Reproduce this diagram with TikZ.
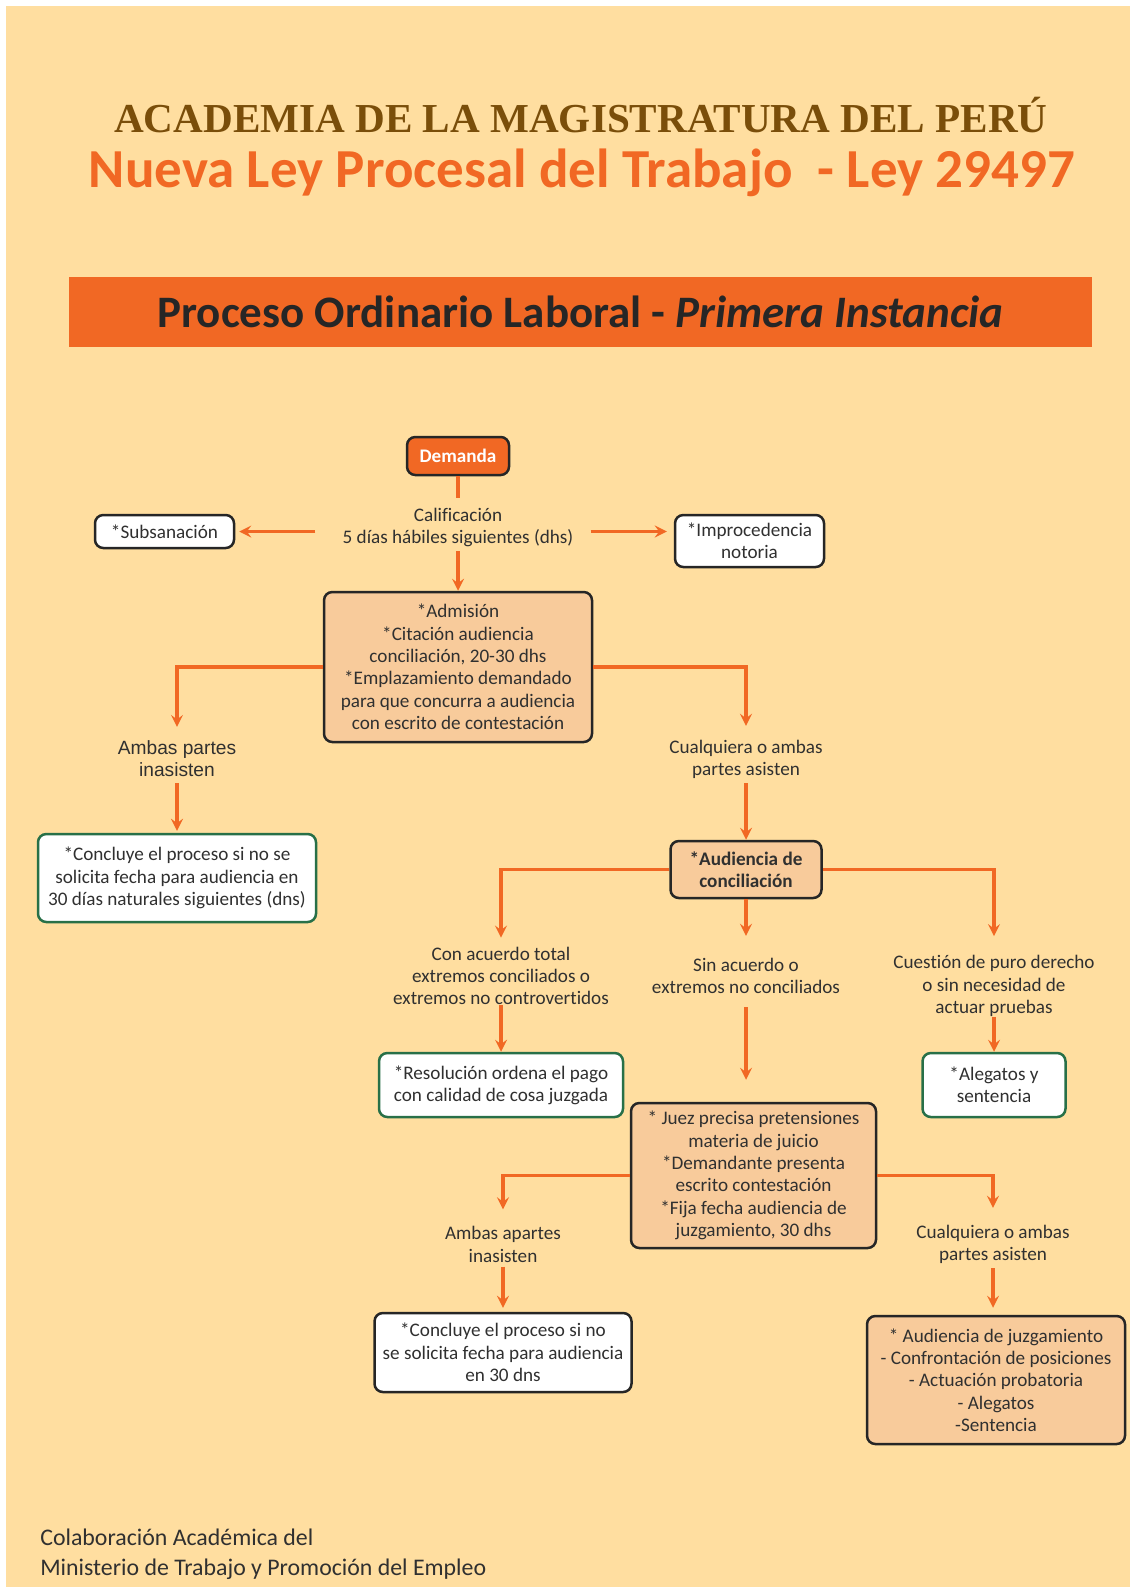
\documentclass[tikz,border=0pt]{standalone}
\usepackage{fontspec}
\setmainfont{Carlito}[Ligatures=NoCommon]
\newfontfamily\serifhead{Liberation Serif}
\newfontfamily\arialtext{Liberation Sans}
\usepackage{tikz}
\usetikzlibrary{arrows}
\definecolor{paper}{RGB}{255,222,160}
\definecolor{flow}{RGB}{241,104,36}
\definecolor{peachfill}{RGB}{248,203,155}
\definecolor{boxline}{RGB}{38,38,38}
\definecolor{greenline}{RGB}{40,112,72}
\definecolor{ink}{RGB}{48,48,48}
\definecolor{brownhead}{RGB}{122,78,10}
\newdimen\px \px=0.6pt
\tikzstyle{box} = [rectangle, rounded corners=5pt, draw=boxline, line width=1.5pt, fill=white, align=center, text=ink, inner sep=0pt]
\tikzstyle{greenbox} = [box, draw=greenline]
\tikzstyle{peach} = [box, fill=peachfill]
\tikzstyle{branch} = [align=center, text=ink, inner sep=0pt]
\tikzstyle{arrow} = [line width=2.1pt, draw=flow, ->, >=stealth]
\tikzstyle{plainline} = [line width=2.1pt, draw=flow]

\begin{document}
\fontsize{11.5}{13.4}\selectfont
\begin{tikzpicture}[x=0.6pt, y=-0.6pt]
    \useasboundingbox (0,0) rectangle (1130,1587);
    \fill[white] (0,0) rectangle (1130,1587);
    \fill[paper] (6,6) rectangle (1130,1587);

    \node (academia) [text=brownhead, font=\serifhead\bfseries\fontsize{24.7}{30}\selectfont] at (581,115) {ACADEMIA DE LA MAGISTRATURA DEL PERÚ};
    \node (ley) [text=flow, font=\bfseries\fontsize{33}{38}\selectfont] at (582,173) {Nueva Ley Procesal del Trabajo~ - Ley 29497};
    \node (bar) [fill=flow, minimum width=1023\px, minimum height=70\px, inner sep=0pt, text=black!85, font=\bfseries\fontsize{27}{30}\selectfont] at (580.5,312) {Proceso Ordinario Laboral - \textit{Primera Instancia}};

    \node (demanda) [box, fill=flow, text=white, font=\bfseries, minimum width=102\px, minimum height=38\px] at (458,456) {Demanda};
    \node (calif) [branch] at (458,527.5) {Calificación\\5 días hábiles siguientes (dhs)};
    \node (subsanacion) [box, minimum width=139\px, minimum height=33\px] at (164.5,531.5) {*Subsanación};
    \node (improcedencia) [box, minimum width=149\px, minimum height=52\px] at (749.5,541) {*Improcedencia\\notoria};
    \node (admision) [peach, minimum width=268\px, minimum height=150\px] at (458,667) {*Admisión\\*Citación audiencia\\conciliación, 20-30 dhs\\*Emplazamiento demandado\\para que concurra a audiencia\\con escrito de contestación};

    \node (ambas1) [branch, font=\arialtext] at (177,758.5) {Ambas partes\\inasisten};
    \node (cualquiera1) [branch] at (746,759.5) {Cualquiera o ambas\\partes asisten};
    \node (concluye1) [greenbox, minimum width=278\px, minimum height=88\px] at (177,878) {*Concluye el proceso si no se\\solicita fecha para audiencia en\\30 días naturales siguientes (dns)};
    \node (conciliacion) [peach, font=\bfseries, minimum width=151\px, minimum height=57\px] at (746,869.5) {*Audiencia de\\conciliación};

    \node (acuerdo) [branch] at (501,976) {Con acuerdo total\\extremos conciliados o\\extremos no controvertidos};
    \node (sinacuerdo) [branch] at (746,976) {Sin acuerdo o\\extremos no conciliados};
    \node (cuestion) [branch] at (994,986) {Cuestión de puro derecho\\o sin necesidad de\\actuar pruebas};
    \node (resolucion) [greenbox, minimum width=244\px, minimum height=64\px] at (501,1085) {*Resolución ordena el pago\\con calidad de cosa juzgada};
    \node (alegatos) [greenbox, minimum width=143\px, minimum height=64\px] at (994,1085) {*Alegatos y\\sentencia};

    \node (juez) [peach, minimum width=245\px, minimum height=145\px] at (753.5,1175.5) {* Juez precisa pretensiones\\materia de juicio\\*Demandante presenta\\escrito contestación\\*Fija fecha audiencia de\\juzgamiento, 30 dhs};
    \node (ambas2) [branch] at (503,1244.5) {Ambas apartes\\inasisten};
    \node (cualquiera2) [branch] at (993,1244.5) {Cualquiera o ambas\\partes asisten};
    \node (concluye2) [box, minimum width=257\px, minimum height=79\px] at (503,1352.5) {*Concluye el proceso si no\\se solicita fecha para audiencia\\en 30 dns};
    \node (juzgamiento) [peach, minimum width=258\px, minimum height=128\px] at (996,1380) {* Audiencia de juzgamiento\\- Confrontación de posiciones\\- Actuación probatoria\\- Alegatos\\-Sentencia};

    \node (colaboracion) [anchor=west, align=left, text=ink, inner sep=0pt, font=\fontsize{14.3}{18}\selectfont] at (40,1554) {Colaboración Académica del\\Ministerio de Trabajo y Promoción del Empleo};

    \draw [plainline, shorten >=10\px] (demanda) -- (calif);
    \draw [arrow, shorten <=4\px] (calif) -- (admision);
    \draw [arrow, shorten <=27\px, shorten >=4\px] (calif.west |- subsanacion) -- (subsanacion);
    \draw [arrow, shorten <=17\px, shorten >=7\px] (calif.east |- subsanacion) -- (improcedencia.west |- subsanacion);
    \draw [arrow, shorten >=13\px] (admision) -| (ambas1);
    \draw [arrow, shorten >=14\px] (admision) -| (cualquiera1);
    \draw [arrow, shorten <=6\px, shorten >=2\px] (ambas1) -- (concluye1);
    \draw [arrow, shorten <=4\px] (cualquiera1) -- (conciliacion);
    \draw [arrow, shorten >=9\px] (conciliacion) -| (acuerdo);
    \draw [arrow, shorten >=22\px] (conciliacion) -- (sinacuerdo);
    \draw [arrow, shorten >=19\px] (conciliacion) -| (cuestion);
    \draw [arrow] (acuerdo) -- (resolucion);
    \draw [arrow, shorten <=13\px, shorten >=22\px] (sinacuerdo) -- (sinacuerdo |- juez.north);
    \draw [arrow] (cuestion) -- (alegatos);
    \draw [arrow, shorten >=17\px] (juez) -| (ambas2);
    \draw [arrow, shorten >=17\px] (juez) -| (cualquiera2);
    \draw [arrow, shorten <=4\px, shorten >=4\px] (ambas2) -- (concluye2);
    \draw [arrow, shorten <=4\px, shorten >=7\px] (cualquiera2) -- (cualquiera2 |- juzgamiento.north);
\end{tikzpicture}
\end{document}
